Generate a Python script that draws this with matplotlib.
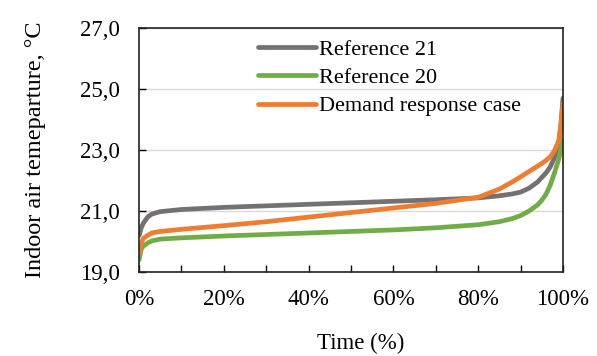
import matplotlib
matplotlib.use("Agg")
import matplotlib.pyplot as plt
from matplotlib.ticker import FuncFormatter, MultipleLocator

plt.rcParams['font.family'] = ['Liberation Serif', 'DejaVu Serif']

# time share (%) and indoor air temperature (°C)
time_pct = [0, 0.5, 1, 2, 3, 5, 10, 20, 30, 40, 50, 60, 70, 80, 85, 88, 90, 92, 94, 95, 96, 97, 98, 99, 99.5, 100]
ref21 = [20.2, 20.45, 20.6, 20.8, 20.9, 20.98, 21.05, 21.12, 21.17, 21.22, 21.27, 21.32, 21.37, 21.43, 21.5, 21.56, 21.62, 21.75, 21.95, 22.1, 22.25, 22.45, 22.75, 23.2, 23.8, 24.7]
ref20 = [19.4, 19.75, 19.85, 19.95, 20.02, 20.08, 20.12, 20.18, 20.23, 20.28, 20.33, 20.38, 20.45, 20.55, 20.65, 20.75, 20.85, 21.0, 21.2, 21.35, 21.55, 21.85, 22.25, 22.7, 23.0, 23.3]
demand = [19.6, 19.95, 20.1, 20.2, 20.28, 20.33, 20.4, 20.52, 20.65, 20.8, 20.95, 21.1, 21.25, 21.45, 21.72, 21.95, 22.12, 22.3, 22.47, 22.56, 22.66, 22.78, 22.98, 23.3, 23.8, 24.5]
y_ticks = [19, 21, 23, 25, 27]

fig, ax = plt.subplots(figsize=(5.97, 3.56), dpi=100)

ax.plot(time_pct, ref21, color='#767171', lw=3.4, label='Reference 21', solid_capstyle='round')
ax.plot(time_pct, ref20, color='#70AD47', lw=3.4, label='Reference 20', solid_capstyle='round')
ax.plot(time_pct, demand, color='#ED7D31', lw=3.4, label='Demand response case', solid_capstyle='round')

ax.set_xlim(0, 100)
ax.set_ylim(19, 27)
ax.set_yticks(y_ticks)
ax.xaxis.set_major_locator(MultipleLocator(20))
ax.xaxis.set_minor_locator(MultipleLocator(10))
ax.yaxis.set_major_formatter(FuncFormatter(lambda v, p: f"{v:.1f}".replace('.', ',')))
ax.xaxis.set_major_formatter(FuncFormatter(lambda v, p: f"{v:.0f}%"))

ax.tick_params(axis='x', which='both', direction='in', length=5, width=1, labelsize=16.5, pad=12)
ax.tick_params(axis='y', direction='in', length=5, width=1, labelsize=16.5, pad=14)

ax.grid(True, axis='y', color='#d9d9d9', lw=1)
ax.set_axisbelow(True)
for s in ax.spines.values():
    s.set_color('#222222')
    s.set_linewidth(1.2)

ax.set_xlabel('Time (%)', fontsize=16.5, labelpad=17, x=0.523)
ax.set_ylabel('Indoor air temeparture, °C', fontsize=17.5, labelpad=24)

ax.legend(loc='upper left', bbox_to_anchor=(0.28, 0.955), frameon=False, fontsize=16,
          handlelength=2.6, handletextpad=0.15, labelspacing=0.35, borderaxespad=0, borderpad=0)

fig.subplots_adjust(left=0.233, right=0.943, top=0.921, bottom=0.236)
fig.savefig('out.png', dpi=100)
